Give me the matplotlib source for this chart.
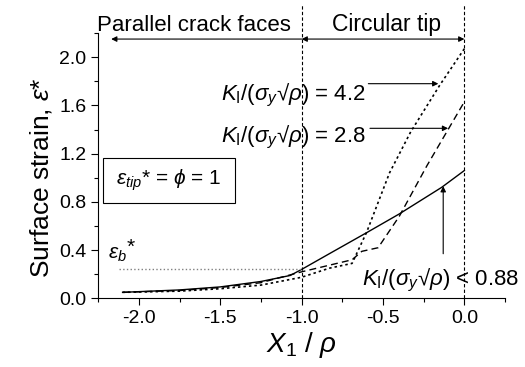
import matplotlib
matplotlib.use('Agg')
import matplotlib.pyplot as plt
from matplotlib.patches import Rectangle
from matplotlib.ticker import MultipleLocator

plt.rcParams['font.family'] = ['Liberation Sans', 'DejaVu Sans']
plt.rcParams['mathtext.fontset'] = 'custom'
plt.rcParams['mathtext.rm'] = 'Liberation Sans'
plt.rcParams['mathtext.it'] = 'Liberation Sans:italic'
plt.rcParams['mathtext.bf'] = 'Liberation Sans:bold'
plt.rcParams['axes.unicode_minus'] = False

# surface strain along the crack face, three load levels
x_low = [-2.1, -1.75, -1.5, -1.25, -1.07, -1.0, -0.83, -0.6, -0.4, -0.14, 0.0]
e_low = [0.05, 0.07, 0.095, 0.14, 0.19, 0.24, 0.37, 0.545, 0.70, 0.92, 1.06]

x_mid = [-2.1, -1.75, -1.5, -1.25, -1.0, -0.69, -0.63, -0.53, -0.4, -0.23, 0.0]
e_mid = [0.05, 0.065, 0.09, 0.13, 0.22, 0.32, 0.39, 0.42, 0.68, 1.10, 1.63]

x_high = [-2.1, -1.75, -1.5, -1.25, -1.0, -0.83, -0.69, -0.6, -0.46, -0.33, -0.15, 0.0]
e_high = [0.05, 0.06, 0.08, 0.11, 0.175, 0.25, 0.29, 0.55, 1.04, 1.38, 1.77, 2.07]

eps_b = 0.24
k_labels = ['< 0.88', '= 2.8', '= 4.2']

fig = plt.figure(figsize=(5.25, 3.67), dpi=100)
ax = fig.add_axes([0.187, 0.187, 0.775, 0.723])

ax.plot(x_low, e_low, '-', color='black', lw=1.0)
ax.plot(x_mid, e_mid, '--', color='black', lw=1.0, dashes=(5, 3))
ax.plot(x_high, e_high, ':', color='black', lw=1.2, dashes=(1.5, 1.8))

# blunting strain level
ax.plot([-2.12, -1.0], [eps_b, eps_b], ':', color='#808080', lw=1.0)
ax.text(-2.19, 0.285, r'$\varepsilon_b$', fontsize=15, ha='left', va='bottom')
ax.text(-2.075, 0.50, '*', fontsize=15, ha='left', va='top')

# region boundaries
for xv in (-1.0, 0.0):
    ax.plot([xv, xv], [0, 2.43], '--', color='black', lw=0.8, dashes=(3, 2), clip_on=False)

arrow = dict(color='black', lw=0.8, mutation_scale=8, shrinkA=0, shrinkB=0)
ax.annotate('', xy=(-2.17, 2.15), xytext=(-1.0, 2.15), annotation_clip=False,
            arrowprops=dict(arrowstyle='-|>', **arrow))
ax.annotate('', xy=(-1.0, 2.15), xytext=(0.0, 2.15), annotation_clip=False,
            arrowprops=dict(arrowstyle='<|-|>', **arrow))
ax.text(-1.664, 2.215, 'Parallel crack faces', fontsize=16, ha='center', va='baseline', clip_on=False)
ax.text(-0.478, 2.215, 'Circular tip', fontsize=16.5, ha='center', va='baseline', clip_on=False)

kexpr = r'$K_{\rm I}/(\sigma_y$√$\rho$) '
ax.text(-1.494, 1.64, kexpr + k_labels[2], fontsize=16, ha='left', va='baseline')
ax.annotate('', xy=(-0.16, 1.78), xytext=(-0.59, 1.78), arrowprops=dict(arrowstyle='-|>', **arrow))
ax.text(-1.494, 1.29, kexpr + k_labels[1], fontsize=16, ha='left', va='baseline')
ax.annotate('', xy=(-0.10, 1.41), xytext=(-0.58, 1.41), arrowprops=dict(arrowstyle='-|>', **arrow))
ax.text(-0.63, 0.105, kexpr + k_labels[0], fontsize=16, ha='left', va='baseline', clip_on=False)
ax.annotate('', xy=(-0.13, 0.93), xytext=(-0.13, 0.37), arrowprops=dict(arrowstyle='-|>', **arrow))

# material parameter box
ax.add_patch(Rectangle((-2.22, 0.79), 0.81, 0.37, fc='white', ec='black', lw=0.8))
ax.text(-1.815, 0.94, r'$\varepsilon_{tip}$* = $\phi$ = 1', fontsize=15, ha='center', va='baseline')

ax.set_xlim(-2.25, 0.25)
ax.set_ylim(0, 2.2)
ax.xaxis.set_major_locator(MultipleLocator(0.5))
ax.xaxis.set_minor_locator(MultipleLocator(0.25))
ax.yaxis.set_major_locator(MultipleLocator(0.4))
ax.yaxis.set_minor_locator(MultipleLocator(0.2))
ax.set_yticks([0.0, 0.4, 0.8, 1.2, 1.6, 2.0])
ax.tick_params(which='both', direction='out', labelsize=14, width=0.8)
ax.tick_params(which='major', length=5)
ax.tick_params(which='minor', length=3)
ax.spines['top'].set_visible(False)
ax.spines['right'].set_visible(False)

ax.set_xlabel(r'$X_1$ / $\rho$', fontsize=20, labelpad=2)
ax.set_ylabel(r'Surface strain, $\varepsilon$*', fontsize=19, labelpad=4)
ax.yaxis.label.set_y(0.455)

fig.savefig('out.png', dpi=100)
